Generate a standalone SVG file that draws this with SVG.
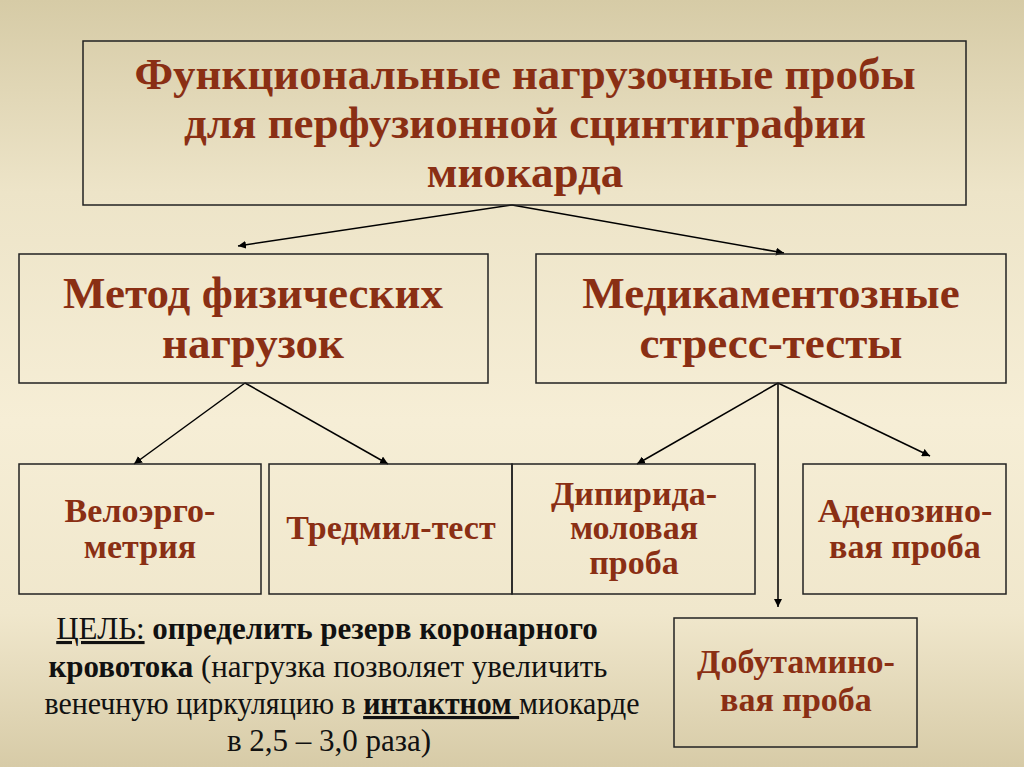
<svg xmlns="http://www.w3.org/2000/svg" width="1024" height="767" viewBox="0 0 1024 767">
<defs>
<linearGradient id="bg" x1="0" y1="0" x2="0" y2="1">
<stop offset="0" stop-color="#D6CBA6"/>
<stop offset="0.25" stop-color="#EDE4C8"/>
<stop offset="0.55" stop-color="#F6EED6"/>
<stop offset="0.8" stop-color="#F0E7CC"/>
<stop offset="1" stop-color="#D7CBA7"/>
</linearGradient>
<marker id="ah" viewBox="0 0 10 10" refX="10" refY="5" markerWidth="8" markerHeight="8" markerUnits="userSpaceOnUse" orient="auto">
<path d="M0,0 L10,5 L0,10 z" fill="#000"/>
</marker>
<style>
.box{fill:none;stroke:#222;stroke-width:1.5}
.t{font-weight:bold;fill:#8A2F14;text-anchor:middle}
.title{font-size:45px}
.mid{font-size:45px}
.sm{font-size:34px}
.note{font-size:31px;fill:#111;text-anchor:middle}
.b{font-weight:bold}
.c{stroke:#000;stroke-width:1.5;fill:none;marker-end:url(#ah)}
</style>
</defs>
<rect x="0" y="0" width="1024" height="767" fill="url(#bg)"/>

<g id="connectors">
<line class="c" x1="512" y1="205" x2="238" y2="246"/>
<line class="c" x1="512" y1="205" x2="784" y2="253"/>
<line class="c" x1="245" y1="383" x2="134" y2="464"/>
<line class="c" x1="245" y1="383" x2="388" y2="464"/>
<line class="c" x1="778" y1="383" x2="637" y2="464"/>
<line class="c" x1="778" y1="383" x2="778" y2="607"/>
<line class="c" x1="778" y1="383" x2="930" y2="456"/>
</g>

<g font-family="'Liberation Serif', 'Times New Roman', 'DejaVu Serif', serif">
<g id="n-root">
<rect class="box" x="83" y="41" width="883" height="164"/>
<text class="t title" x="525" y="89">Функциональные нагрузочные пробы</text>
<text class="t title" x="525" y="138">для перфузионной сцинтиграфии</text>
<text class="t title" x="525" y="187">миокарда</text>
</g>

<g id="n-phys">
<rect class="box" x="19" y="254" width="469" height="129"/>
<text class="t mid" x="253" y="308">Метод физических</text>
<text class="t mid" x="253" y="358">нагрузок</text>
</g>

<g id="n-med">
<rect class="box" x="536" y="254" width="470" height="129"/>
<text class="t mid" x="771" y="308">Медикаментозные</text>
<text class="t mid" x="771" y="358">стресс-тесты</text>
</g>

<g id="n-velo">
<rect class="box" x="19" y="464" width="242" height="130"/>
<text class="t sm" x="140" y="522">Велоэрго-</text>
<text class="t sm" x="140" y="558">метрия</text>
</g>

<g id="n-tred">
<rect class="box" x="269" y="464" width="243" height="130"/>
<text class="t sm" x="391" y="539">Тредмил-тест</text>
</g>

<g id="n-dipir">
<rect class="box" x="512" y="464" width="243" height="130"/>
<text class="t sm" x="634" y="505">Дипирида-</text>
<text class="t sm" x="634" y="539">моловая</text>
<text class="t sm" x="634" y="574">проба</text>
</g>

<g id="n-adeno">
<rect class="box" x="803" y="464" width="203" height="130"/>
<text class="t sm" x="905" y="522">Аденозино-</text>
<text class="t sm" x="905" y="558">вая проба</text>
</g>

<g id="n-dobut">
<rect class="box" x="674" y="618" width="243" height="129"/>
<text class="t sm" x="796" y="673">Добутамино-</text>
<text class="t sm" x="796" y="711">вая проба</text>
</g>

<g id="note">
<text class="note" x="327" y="639"><tspan text-decoration="underline">ЦЕЛЬ:</tspan> <tspan class="b">определить резерв коронарного</tspan></text>
<text class="note" x="328" y="677"><tspan class="b">кровотока</tspan> (нагрузка позволяет увеличить</text>
<text class="note" x="342" y="714" textLength="595" lengthAdjust="spacingAndGlyphs">венечную циркуляцию в <tspan class="b" text-decoration="underline">интактном </tspan>миокарде</text>
<text class="note" x="329" y="751">в 2,5 – 3,0 раза)</text>
</g>
</g>
</svg>
